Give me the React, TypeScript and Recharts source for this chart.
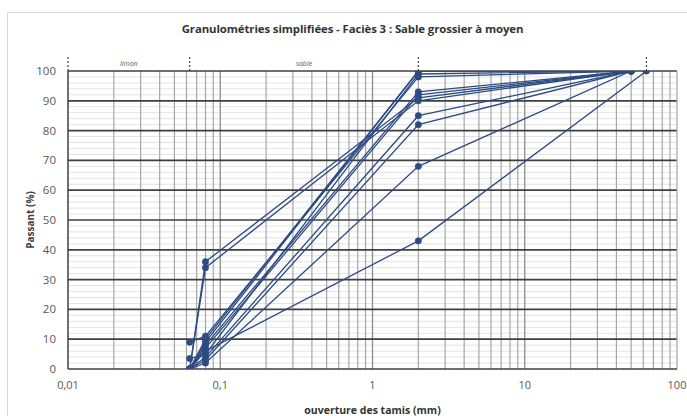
import React from "react";
import {
  LineChart, Line, XAxis, YAxis, ReferenceLine, ReferenceArea,
} from "recharts";

// tamis (mm)
const SIZES = [0.063, 0.08, 2, 50];
const SIZES_63 = [0.063, 0.08, 2, 63];

// passant (%) per sample
const S1 = [0, 34, 90, 100];
const S2 = [0, 36, 91, 100];
const S3 = [9, 11, 98, 100];
const S4 = [3.5, 5, 99, 100];
const S5 = [0, 10, 100, 100];
const S6 = [0, 8, 93, 100];
const S7 = [0, 7, 92, 100];
const S8 = [0, 4, 85, 100];
const S9 = [0, 3, 82, 100];
const S10 = [0, 2, 68, 100];
const S11 = [0, 6, 43, 100];
const S12 = [0, 9, 100, 100];

const X_TICKS = [0.01, 0.1, 1, 10, 100];
const Y_TICKS = [0, 10, 20, 30, 40, 50, 60, 70, 80, 90, 100];
const Y_MINOR = [2, 4, 6, 8, 12, 14, 16, 18, 22, 24, 26, 28, 32, 34, 36, 38, 42, 44, 46, 48, 52, 54, 56, 58, 62, 64, 66, 68, 72, 74, 76, 78, 82, 84, 86, 88, 92, 94, 96, 98];
const DECADES = [0.01, 0.1, 1, 10];
const MULT = [2, 3, 4, 5, 6, 7, 8, 9];

// limites des classes
const BOUNDS = [0.01, 0.063, 2, 63];

const toRows = (xs: number[], ys: number[]) => xs.map((d, i) => ({ d, p: ys[i] }));

const SERIES = [
  toRows(SIZES, S1), toRows(SIZES, S2), toRows(SIZES, S3), toRows(SIZES, S4),
  toRows(SIZES, S5), toRows(SIZES, S6), toRows(SIZES, S7), toRows(SIZES, S8),
  toRows(SIZES, S9), toRows(SIZES, S10), toRows(SIZES_63, S11), toRows(SIZES, S12),
];

const BLUE = "#2c4b82";
const FONT = "'Open Sans', sans-serif";

const fmtX = (v: number) => String(v).replace(".", ",");

export default function App() {
  const xMinor = DECADES.flatMap((d) => MULT.map((m) => +(d * m).toPrecision(3)));
  return (
    <div style={{ position: "absolute", left: 0, top: 0, width: 687, height: 416, background: "#fff", overflow: "hidden", fontFamily: FONT }}>
      <div style={{ position: "absolute", left: 7, top: 12, width: 700, height: 420, borderLeft: "1px solid #d9d9d9", borderTop: "1px solid #d9d9d9" }} />
      <div style={{ position: "absolute", left: 0, width: 705, top: 21, textAlign: "center", fontSize: 11.4, fontWeight: 700, color: "#333", letterSpacing: -0.1 }}>
        Granulométries simplifiées - Faciès 3 : Sable grossier à moyen
      </div>
      <LineChart width={687} height={416} margin={{ top: 71, right: 10, bottom: 17, left: 22 }} style={{ position: "absolute", left: 0, top: 0 }}>
        <XAxis
          dataKey="d" type="number" scale="log" domain={[0.01, 100]} allowDataOverflow
          ticks={X_TICKS} tickFormatter={fmtX} axisLine={{ stroke: "#404040", strokeWidth: 1.5 }}
          tickLine={false} tick={{ fontSize: 11, fill: "#595959", fontFamily: FONT }} tickMargin={6} height={30}
        />
        <YAxis
          type="number" domain={[0, 100]} ticks={Y_TICKS} allowDataOverflow width={46}
          axisLine={{ stroke: "#404040", strokeWidth: 1.5 }} tickLine={false}
          tick={{ fontSize: 11.5, fill: "#595959", fontFamily: FONT }} tickMargin={6}
          label={{ value: "Passant (%)", angle: -90, position: "insideLeft", offset: 8, style: { fontSize: 10, fontWeight: 700, fill: "#404040", textAnchor: "middle" } }}
        />
        {Y_MINOR.map((v) => (
          <ReferenceLine key={"ym" + v} y={v} stroke="#e3e3e3" strokeWidth={1} />
        ))}
        {xMinor.map((v) => (
          <ReferenceLine key={"xm" + v} x={v} stroke="#a6a6a6" strokeWidth={1.2} />
        ))}
        {X_TICKS.slice(1, -1).map((v) => (
          <ReferenceLine key={"xM" + v} x={v} stroke="#8c8c8c" strokeWidth={1.3} />
        ))}
        {Y_TICKS.slice(1).map((v) => (
          <ReferenceLine key={"yM" + v} y={v} stroke="#3f3f3f" strokeWidth={1.7} />
        ))}
        <ReferenceLine x={100} stroke="#a6a6a6" strokeWidth={1.2} />
        {BOUNDS.map((b) => (
          <ReferenceLine
            key={"b" + b} ifOverflow="visible" stroke="#404040" strokeWidth={1.2} strokeDasharray="2 2"
            segment={[{ x: b, y: 100 }, { x: b, y: 105 }]}
          />
        ))}
        <ReferenceArea
          x1={0.01} x2={0.063} y1={100} y2={105} ifOverflow="visible" fill="none" stroke="none"
          label={{ value: "limon", position: "center", fill: "#595959", fontSize: 7, fontStyle: "italic" }}
        />
        <ReferenceArea
          x1={0.063} x2={2} y1={100} y2={105} ifOverflow="visible" fill="none" stroke="none"
          label={{ value: "sable", position: "center", fill: "#595959", fontSize: 7, fontStyle: "italic" }}
        />
        {SERIES.map((rows, i) => (
          <Line
            key={i} data={rows} dataKey="p" stroke={BLUE} strokeWidth={1.3}
            dot={{ r: 3.2, fill: BLUE, stroke: BLUE, strokeWidth: 0.5 }} isAnimationActive={false}
          />
        ))}
      </LineChart>
      <div style={{ position: "absolute", left: 68, width: 609, top: 403, textAlign: "center", fontSize: 10.5, fontWeight: 700, color: "#333" }}>
        ouverture des tamis (mm)
      </div>
    </div>
  );
}
